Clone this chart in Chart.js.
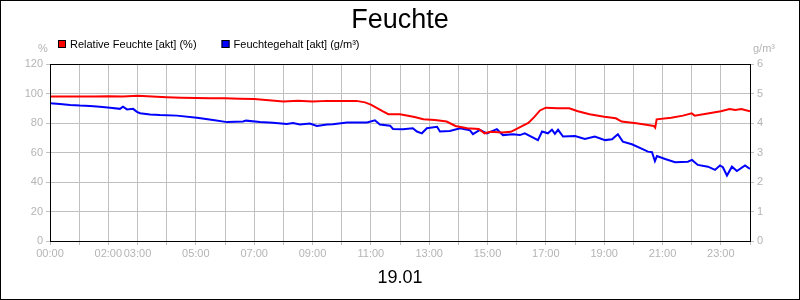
<!DOCTYPE html>
<html>
<head>
<meta charset="utf-8">
<script src="https://cdn.jsdelivr.net/npm/chart.js@4/dist/chart.umd.min.js"></script>
<style>
  html, body { margin: 0; padding: 0; background: #fff; }
  #wrap { width: 800px; height: 300px; }
</style>
</head>
<body>
<div id="wrap"><canvas id="c" width="800" height="300"></canvas></div>
<script>
// hour labels shown under the x axis
const xTickHours = [0, 2, 3, 5, 7, 9, 11, 13, 15, 17, 19, 21, 23];

// relative humidity (%), left axis
const rfTimes = [0, 0.5, 1, 1.5, 2, 2.5, 3, 3.5, 4, 4.5, 5, 5.5, 6, 6.5, 7, 7.5, 8, 8.5, 9, 9.5, 10, 10.5, 10.8,
  11, 11.4, 11.6, 12, 12.5, 12.8, 13.2, 13.6, 13.9, 14.3, 14.7, 14.9, 15.1, 15.5, 15.8, 16, 16.2, 16.4, 16.6, 16.8,
  17, 17.4, 17.8, 18.1, 18.5, 19, 19.4, 19.6, 20.1, 20.5, 20.7, 20.75, 20.8, 21.3, 21.7, 22, 22.1, 22.6, 23, 23.3,
  23.5, 23.7, 24];
const rfValues = [98, 98, 98, 98, 98.2, 98, 98.5, 98, 97.5, 97.2, 97, 96.8, 96.8, 96.5, 96.3, 95.5, 94.5, 95, 94.5, 95, 95, 95, 94,
  92.5, 88, 86, 86, 84, 82.5, 82, 81, 78, 76.5, 76, 73, 74, 73.5, 74, 76, 78, 80, 84, 88.5,
  90.4, 90, 90, 88, 86, 84.3, 83.2, 81, 79.8, 78.6, 78, 76.8, 82.5, 83.6, 85, 86.6, 85, 86.6, 88, 89.5,
  88.8, 89.5, 88];

// absolute humidity (g/m³), right axis
const fgTimes = [0, 0.34, 0.69, 1.03, 1.37, 1.71, 2.06, 2.4, 2.5, 2.64, 2.85, 2.98, 3.09, 3.43, 3.77, 4.35, 5.04, 5.59,
  6.07, 6.62, 6.72, 7.2, 7.64, 8.12, 8.33, 8.57, 8.91, 9.15, 9.5, 9.7, 10.18, 10.87, 11.14, 11.31, 11.66, 11.76,
  12.1, 12.44, 12.58, 12.75, 12.92, 13.27, 13.37, 13.71, 14.06, 14.4, 14.5, 14.74, 14.98, 15.32, 15.53, 15.87,
  16.11, 16.28, 16.73, 16.87, 17.07, 17.21, 17.31, 17.42, 17.59, 18, 18.34, 18.68, 19.03, 19.27, 19.47, 19.64,
  19.95, 20.3, 20.5, 20.64, 20.74, 20.81, 21.09, 21.43, 21.87, 22.01, 22.21, 22.56, 22.8, 22.97, 23.07, 23.21,
  23.38, 23.55, 23.83, 24];
const fgValues = [4.67, 4.64, 4.61, 4.59, 4.58, 4.55, 4.52, 4.48, 4.55, 4.46, 4.48, 4.38, 4.33, 4.29, 4.27, 4.25, 4.18, 4.10,
  4.03, 4.05, 4.08, 4.03, 4.01, 3.97, 4.0, 3.95, 3.98, 3.90, 3.95, 3.96, 4.02, 4.02, 4.09, 3.95, 3.91, 3.80,
  3.79, 3.82, 3.71, 3.65, 3.82, 3.87, 3.71, 3.73, 3.82, 3.75, 3.62, 3.77, 3.65, 3.79, 3.59, 3.62,
  3.59, 3.65, 3.42, 3.71, 3.65, 3.77, 3.63, 3.77, 3.54, 3.56, 3.46, 3.54, 3.42, 3.45, 3.62, 3.37,
  3.28, 3.12, 3.03, 3.01, 2.71, 2.88, 2.78, 2.67, 2.69, 2.75, 2.58, 2.52, 2.41, 2.56, 2.5, 2.22,
  2.52, 2.37, 2.56, 2.44];

const FONT = "'Liberation Sans', Arial, sans-serif";
const GRAY = '#b4b4b4';
Chart.defaults.font.family = FONT;
Chart.defaults.font.size = 11;

// title, legend, units, date and frames drawn on top
const decor = {
  id: 'decor',
  beforeDraw(chart) {
    const ctx = chart.ctx;
    ctx.save();
    ctx.fillStyle = '#fff';
    ctx.fillRect(0, 0, chart.width, chart.height);
    ctx.restore();
  },
  afterDraw(chart) {
    const ctx = chart.ctx, a = chart.chartArea;
    ctx.save();
    // plot frame
    ctx.strokeStyle = '#000';
    ctx.lineWidth = 1;
    ctx.strokeRect(a.left + 0.5, a.top + 0.5, a.right - a.left, a.bottom - a.top);
    // outer frame
    ctx.strokeRect(0.5, 0.5, chart.width - 1, chart.height - 1);

    // title
    ctx.fillStyle = '#000';
    ctx.textAlign = 'center';
    ctx.textBaseline = 'alphabetic';
    ctx.font = '27px ' + FONT;
    ctx.fillText('Feuchte', chart.width / 2, 28);
    ctx.font = '18px ' + FONT;
    ctx.fillText('19.01', chart.width / 2, 283);

    // legend
    ctx.font = '11px ' + FONT;
    ctx.textAlign = 'left';
    ctx.textBaseline = 'middle';
    let x = 58;
    chart.data.datasets.forEach(ds => {
      ctx.fillStyle = ds.borderColor;
      ctx.fillRect(x, 40, 8, 8);
      ctx.strokeStyle = '#000';
      ctx.strokeRect(x + 0.5, 40.5, 7, 7);
      ctx.fillStyle = '#000';
      ctx.fillText(ds.label, x + 12, 44.5);
      x += 12 + ctx.measureText(ds.label).width + 25;
    });

    // unit labels
    ctx.fillStyle = GRAY;
    ctx.textAlign = 'center';
    ctx.fillText('%', 43, 49);
    ctx.textAlign = 'left';
    ctx.fillText('g/m³', 753, 49);
    ctx.restore();
  }
};

new Chart(document.getElementById('c'), {
  type: 'line',
  data: {
    datasets: [
      {
        label: 'Relative Feuchte [akt] (%)',
        data: rfTimes.map((t, i) => ({ x: t, y: rfValues[i] })),
        borderColor: '#ff0000',
        backgroundColor: '#ff0000',
        borderWidth: 2,
        pointRadius: 0,
        yAxisID: 'y'
      },
      {
        label: 'Feuchtegehalt [akt] (g/m³)',
        data: fgTimes.map((t, i) => ({ x: t, y: fgValues[i] })),
        borderColor: '#0000ff',
        backgroundColor: '#0000ff',
        borderWidth: 2,
        pointRadius: 0,
        yAxisID: 'y1'
      }
    ]
  },
  options: {
    responsive: false,
    animation: false,
    layout: { padding: { top: 64, left: 0, right: 0, bottom: 0 } },
    plugins: { legend: { display: false }, title: { display: false }, tooltip: { enabled: false } },
    scales: {
      x: {
        type: 'linear',
        min: 0, max: 24,
        afterFit: s => { s.height = 59; },
        border: { display: false },
        grid: { color: '#c0c0c0', tickLength: 4 },
        ticks: {
          stepSize: 1, autoSkip: false, maxRotation: 0, padding: 2, color: GRAY,
          callback: v => xTickHours.includes(v) ? String(v).padStart(2, '0') + ':00' : ''
        }
      },
      y: {
        position: 'left',
        min: 0, max: 120,
        afterFit: s => { s.width = 50; },
        border: { display: false },
        grid: { color: '#c0c0c0', tickLength: 4 },
        ticks: { stepSize: 20, padding: 3, color: GRAY }
      },
      y1: {
        position: 'right',
        min: 0, max: 6,
        afterFit: s => { s.width = 50; },
        border: { display: false },
        grid: { drawOnChartArea: false, color: '#c0c0c0', tickLength: 4 },
        ticks: { stepSize: 1, padding: 3, color: GRAY }
      }
    }
  },
  plugins: [decor]
});
</script>
</body>
</html>
